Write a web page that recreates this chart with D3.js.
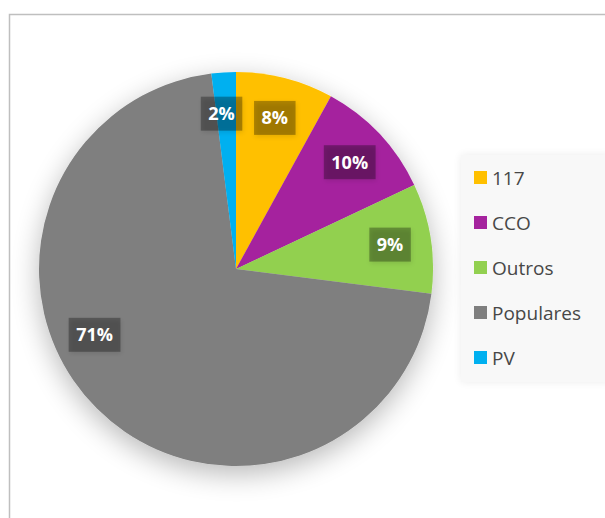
<!DOCTYPE html>
<html>
<head>
<meta charset="utf-8">
<script src="https://cdn.jsdelivr.net/npm/d3@7/dist/d3.min.js"></script>
<style>
  html, body { margin: 0; padding: 0; background: #ffffff; }
  svg { display: block; }
</style>
</head>
<body>
<svg id="chart" width="605" height="518"></svg>
<script>
// Share of each group (percent)
const categories = ["117", "CCO", "Outros", "Populares", "PV"];
const values = [8, 10, 9, 71, 2];
const colors = ["#FFC000", "#A5239E", "#92D050", "#7F7F7F", "#00B0F0"];

// Layout
const W = 605, H = 518;
const cx = 236, cy = 269, R = 197;
const labelRadius = 156;
// extra turn (radians) for labels that sit away from the slice middle
const labelTurn = { "Populares": 0.35, "PV": -0.03 };
const FONT = "'Open Sans', Lato, 'DejaVu Sans', sans-serif";

const svg = d3.select("#chart");
svg.append("rect").attr("width", W).attr("height", H).attr("fill", "#ffffff");

const defs = svg.append("defs");
const pieShadow = defs.append("filter").attr("id", "pieShadow")
  .attr("x", "-30%").attr("y", "-30%").attr("width", "160%").attr("height", "160%");
pieShadow.append("feGaussianBlur").attr("in", "SourceAlpha").attr("stdDeviation", 14).attr("result", "b");
pieShadow.append("feOffset").attr("in", "b").attr("dx", 0).attr("dy", 8).attr("result", "o");
pieShadow.append("feComponentTransfer").attr("in", "o").attr("result", "s")
  .append("feFuncA").attr("type", "linear").attr("slope", 0.28);
const pm = pieShadow.append("feMerge");
pm.append("feMergeNode").attr("in", "s");
pm.append("feMergeNode").attr("in", "SourceGraphic");

const boxShadow = defs.append("filter").attr("id", "boxShadow")
  .attr("x", "-40%").attr("y", "-40%").attr("width", "180%").attr("height", "180%");
boxShadow.append("feGaussianBlur").attr("in", "SourceAlpha").attr("stdDeviation", 2.5).attr("result", "b");
boxShadow.append("feOffset").attr("in", "b").attr("dx", 1).attr("dy", 2).attr("result", "o");
boxShadow.append("feComponentTransfer").attr("in", "o").attr("result", "s")
  .append("feFuncA").attr("type", "linear").attr("slope", 0.35);
const bm = boxShadow.append("feMerge");
bm.append("feMergeNode").attr("in", "s");
bm.append("feMergeNode").attr("in", "SourceGraphic");

const legendShadow = defs.append("filter").attr("id", "legendShadow")
  .attr("x", "-20%").attr("y", "-20%").attr("width", "140%").attr("height", "140%");
legendShadow.append("feGaussianBlur").attr("in", "SourceAlpha").attr("stdDeviation", 4).attr("result", "b");
legendShadow.append("feComponentTransfer").attr("in", "b").attr("result", "s")
  .append("feFuncA").attr("type", "linear").attr("slope", 0.08);
const lm = legendShadow.append("feMerge");
lm.append("feMergeNode").attr("in", "s");
lm.append("feMergeNode").attr("in", "SourceGraphic");

// Chart border
svg.append("rect")
  .attr("x", 9.5).attr("y", 14.5).attr("width", 620).attr("height", 530)
  .attr("fill", "none").attr("stroke", "#bfbfbf").attr("stroke-width", 1.5);

const data = categories.map((c, i) => ({ name: c, value: values[i], color: colors[i] }));
const pie = d3.pie().sort(null).value(d => d.value);
const arcs = pie(data);
const arc = d3.arc().innerRadius(0).outerRadius(R);

const g = svg.append("g").attr("transform", `translate(${cx},${cy})`);
g.append("g").attr("filter", "url(#pieShadow)")
  .selectAll("path").data(arcs).join("path")
  .attr("d", arc)
  .attr("fill", d => d.data.color);

// Value labels
const fmt = d3.format(".0%");
const total = d3.sum(values);
const labels = g.append("g");
arcs.forEach(a => {
  const ang = (a.startAngle + a.endAngle) / 2 + (labelTurn[a.data.name] || 0);
  const x = Math.sin(ang) * labelRadius;
  const y = -Math.cos(ang) * labelRadius;
  const lg = labels.append("g").attr("transform", `translate(${x},${y})`);
  const box = lg.append("rect").attr("fill", "#000000").attr("fill-opacity", 0.3)
    .attr("filter", "url(#boxShadow)");
  const t = lg.append("text")
    .attr("text-anchor", "middle").attr("dy", "0.36em")
    .attr("font-family", FONT).attr("font-weight", 700).attr("font-size", 18)
    .attr("fill", "#ffffff")
    .text(fmt(a.data.value / total));
  const w = t.node().getComputedTextLength() + 15;
  box.attr("x", -w / 2).attr("y", -17).attr("width", w).attr("height", 34);
});

// Legend
const legend = svg.append("g");
legend.append("rect")
  .attr("x", 461).attr("y", 155).attr("width", 150).attr("height", 227)
  .attr("fill", "#f8f8f8").attr("filter", "url(#legendShadow)");
const item = legend.selectAll("g.item").data(data).join("g")
  .attr("class", "item")
  .attr("transform", (d, i) => `translate(474,${178 + i * 45})`);
item.append("rect").attr("x", 0).attr("y", -7).attr("width", 13).attr("height", 13)
  .attr("fill", d => d.color);
item.append("text").attr("x", 18).attr("dy", "0.36em")
  .attr("font-family", FONT).attr("font-size", 19).attr("fill", "#474747")
  .text(d => d.name);
</script>
</body>
</html>
